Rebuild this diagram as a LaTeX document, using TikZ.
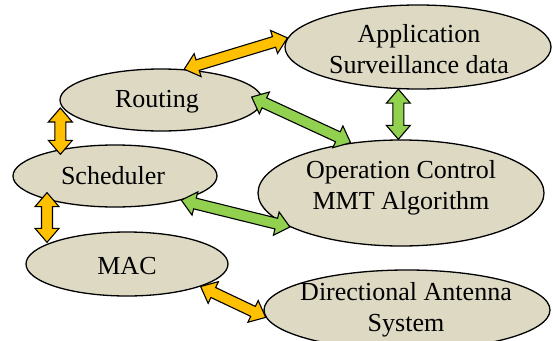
\documentclass[tikz,border=0pt]{standalone}
\usepackage{fontspec}
\setmainfont{Liberation Serif}
\usepackage{tikz}
\usetikzlibrary{calc, shapes.geometric}
\definecolor{blobfill}{HTML}{DDD9C3}
\definecolor{linkorange}{HTML}{FFC000}
\definecolor{linkgreen}{HTML}{92D050}

% double-headed block arrow: from, to, fill colour
\newcommand{\dblarrow}[3]{%
  \filldraw[link, fill=#3] let \p1=(#1), \p2=(#2),
    \n1={atan2(\y2-\y1,\x2-\x1)}, \n2={veclen(\x2-\x1,\y2-\y1)} in
    [shift={(\p1)}, rotate=\n1]
    (0,0) -- (14,12) -- (14,5.5) -- ({\n2-14},5.5) -- ({\n2-14},12) -- (\n2,0)
    -- ({\n2-14},-12) -- ({\n2-14},-5.5) -- (14,-5.5) -- (14,-12) -- cycle;
}

\begin{document}
\begin{tikzpicture}[x=1pt, y=-1pt,
    blob/.style={ellipse, draw, line width=1.3pt, fill=blobfill, inner sep=0pt},
    lbl/.style={align=center, inner sep=0pt, font=\fontsize{26}{31}\selectfont},
    link/.style={draw=black, line width=1.1pt, line join=miter}]
  \clip (0,0) rectangle (553,340);

  % layers
  \node[blob, minimum width=266pt, minimum height=84pt] (app) at (418,47) {};
  \node[blob, minimum width=202pt, minimum height=62pt] (routing) at (161,100) {};
  \node[blob, minimum width=204pt, minimum height=62pt] (sched) at (115,176) {};
  \node[blob, minimum width=286pt, minimum height=106pt] (opc) at (401,193) {};
  \node[blob, minimum width=202pt, minimum height=64pt] (mac) at (127,264) {};
  \node[blob, minimum width=286pt, minimum height=80pt] (dir) at (407,310) {};

  % labels
  \node[lbl] (appT) at ($(app)+(1,2)$) {Application\\Surveillance data};
  \node[lbl] (routingT) at ($(routing)+(-4,2)$) {Routing};
  \node[lbl] (schedT) at ($(sched)+(-2,0)$) {Scheduler};
  \node[lbl] (opcT) at ($(opc)+(0,-5)$) {Operation Control\\MMT Algorithm};
  \node[lbl] (macT) at ($(mac)+(0,2)$) {MAC};
  \node[lbl] (dirT) at ($(dir)+(-1,0)$) {Directional Antenna\\System};

  % links
  \dblarrow{routing.53}{app.176}{linkorange}
  \dblarrow{$(routing.east)+(-11,-3)$}{opc.135}{linkgreen}
  \dblarrow{app.-115}{app.-115 |- opc.north}{linkgreen}
  \dblarrow{$(routing.west)+(1,8)$}{$(routing.west |- sched.north)+(1,10)$}{linkorange}
  \dblarrow{$(sched.south)+(-68,-15)$}{$(mac.north)+(-80,11)$}{linkorange}
  \dblarrow{sched.-20}{opc.197}{linkgreen}
  \dblarrow{mac.-17}{dir.183}{linkorange}
\end{tikzpicture}
\end{document}
